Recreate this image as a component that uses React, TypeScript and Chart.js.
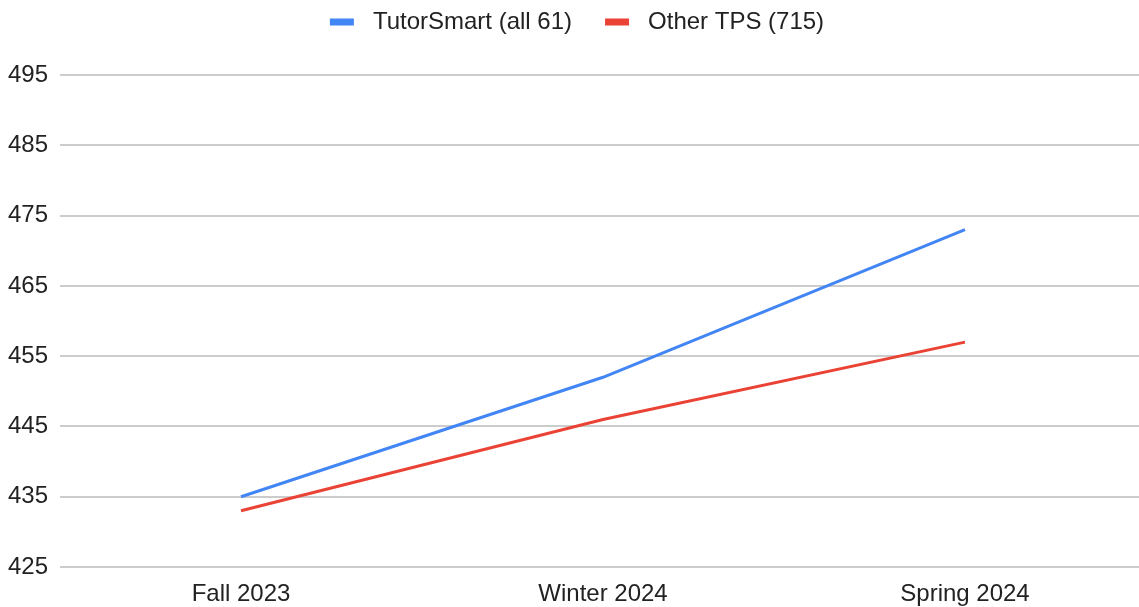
import React, { useEffect, useRef } from "react";
import { Chart, registerables } from "chart.js";

Chart.register(...registerables);

const categories = ["Fall 2023", "Winter 2024", "Spring 2024"];
const tutorSmart = [435, 452, 473];
const otherTPS = [433, 446, 457];
const seriesNames = ["TutorSmart (all 61)", "Other TPS (715)"];
const seriesColors = ["#4285F4", "#EA4335"];
const yTicks = [425, 435, 445, 455, 465, 475, 485, 495];

const FONT = "Liberation Sans, Arial, sans-serif";

const legendPlugin = {
  id: "customLegend",
  afterDraw(chart: any) {
    const ctx = chart.ctx as CanvasRenderingContext2D;
    ctx.save();
    ctx.font = `24px ${FONT}`;
    ctx.textBaseline = "middle";
    ctx.textAlign = "left";
    const box = 24;
    const gapText = 19;
    const gapItem = 33;
    const widths = chart.data.datasets.map((d: any) => ctx.measureText(d.label).width);
    let total = 0;
    widths.forEach((w: number, i: number) => {
      total += box + gapText + w + (i < widths.length - 1 ? gapItem : 0);
    });
    let x = 577 - total / 2;
    const y = 22;
    chart.data.datasets.forEach((d: any, i: number) => {
      ctx.fillStyle = d.borderColor;
      ctx.fillRect(x, y - 3.5, box, 7);
      x += box + gapText;
      ctx.fillStyle = "#222";
      ctx.fillText(d.label, x, y);
      x += widths[i] + gapItem;
    });
    ctx.restore();
  },
};

export default function App() {
  const ref = useRef<HTMLCanvasElement | null>(null);
  useEffect(() => {
    document.body.style.margin = "0";
    const ctx = ref.current!;
    const chart = new Chart(ctx, {
      type: "line",
      data: {
        labels: categories,
        datasets: [
          {
            label: seriesNames[0],
            data: tutorSmart,
            borderColor: seriesColors[0],
            backgroundColor: seriesColors[0],
            borderWidth: 3,
            pointRadius: 0,
            tension: 0,
          },
          {
            label: seriesNames[1],
            data: otherTPS,
            borderColor: seriesColors[1],
            backgroundColor: seriesColors[1],
            borderWidth: 3,
            pointRadius: 0,
            tension: 0,
          },
        ],
      },
      plugins: [legendPlugin],
      options: {
        animation: false,
        responsive: false,
        layout: { padding: { left: 8, right: 0, top: 40, bottom: 0 } },
        plugins: {
          tooltip: { enabled: false },
          legend: { display: false },
        },
        scales: {
          x: {
            offset: true,
            grid: { display: false },
            border: { display: false },
            afterFit: (s: any) => {
              s.height = 40;
            },
            ticks: {
              color: "#222",
              padding: 5,
              maxRotation: 0,
              font: { family: FONT, size: 24 },
            },
          },
          y: {
            min: 425,
            max: 500,
            afterBuildTicks: (s: any) => {
              s.ticks = yTicks.map((v) => ({ value: v }));
            },
            afterFit: (s: any) => {
              s.width = 52;
            },
            border: { display: false },
            grid: { color: "#cccccc", lineWidth: 2, drawTicks: false },
            ticks: {
              color: "#222",
              crossAlign: "far",
              padding: 0,
              font: { family: FONT, size: 24 },
            },
          },
        },
      },
    });
    return () => chart.destroy();
  }, []);
  return (
    <div style={{ width: 1139, height: 607, overflow: "hidden" }}>
      <canvas ref={ref} width={1146} height={607} />
    </div>
  );
}
